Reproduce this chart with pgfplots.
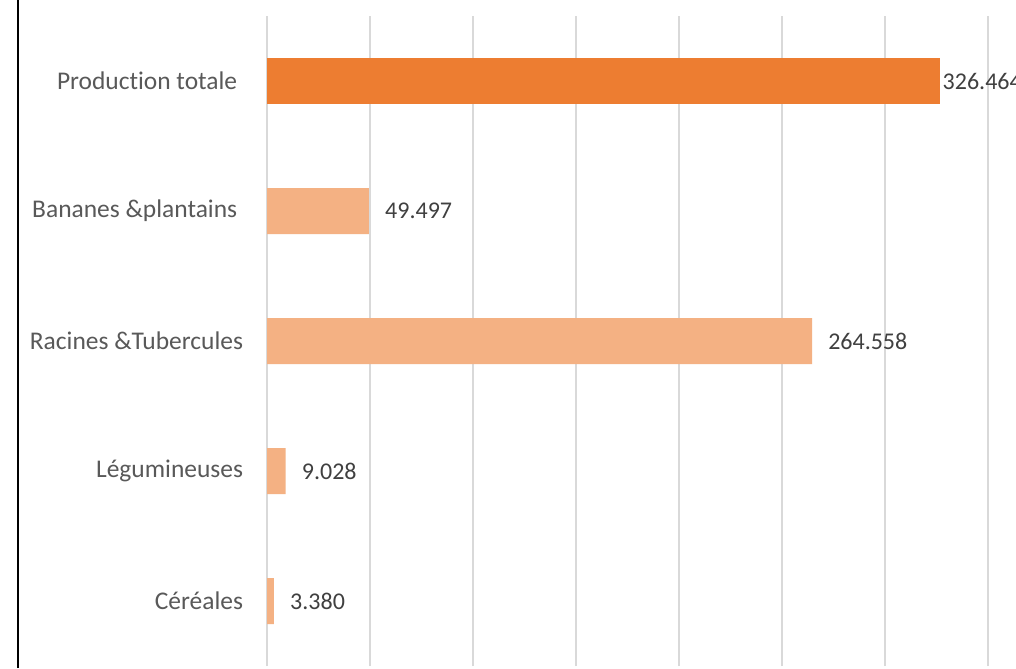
\documentclass[border=0pt]{standalone}
\usepackage{fontspec}
\setmainfont{Carlito}[Ligatures={NoCommon}]
\usepackage{pgfplots}
\pgfplotsset{compat=1.18}
\definecolor{barDark}{RGB}{237,125,49}
\definecolor{barLight}{RGB}{244,177,131}
\definecolor{gridc}{RGB}{217,217,217}
\definecolor{catc}{RGB}{89,89,89}
\definecolor{valc}{RGB}{64,64,64}
\begin{document}
\begin{tikzpicture}
\useasboundingbox (0,0) rectangle (762pt,501pt);
\clip (0,0) rectangle (762pt,501pt);
\fill[white] (0,0) rectangle (762pt,501pt);
\begin{axis}[
  at={(200.25pt,1.5pt)}, anchor=south west,
  scale only axis, width=540.75pt, height=487.5pt,
  xmin=0, xmax=350, ymin=-0.5, ymax=4.5,
  xtick={0,50,...,350}, xticklabels={},
  xmajorgrids, major grid style={gridc, line width=1.3pt},
  ytick={0,1,2,3,4},
  yticklabels={Céréales, Légumineuses, Racines \&Tubercules, Bananes \&plantains\kern0.23em, Production totale\kern0.23em},
  yticklabel style={font=\fontsize{19.1}{21}\selectfont, text=catc, inner sep=0pt, anchor=east, xshift=-13.5pt},
  axis line style={draw=none}, tick style={draw=none},
  xbar, bar width=34.5pt,
  point meta=explicit symbolic,
  nodes near coords,
  every node near coord/.append style={font=\fontsize{18}{20}\selectfont, text=valc, inner sep=0pt, anchor=west},
  clip=false,
]
\addplot[fill=barLight, draw=none, bar shift=0pt,
  every node near coord/.append style={xshift=12pt}]
  coordinates {(3.380,0) [3.380] (9.028,1) [9.028] (264.558,2) [264.558] (49.497,3) [49.497]};
\addplot[fill=barDark, draw=none, bar shift=0pt,
  every node near coord/.append style={xshift=2.2pt}]
  coordinates {(326.464,4) [326.464]};
\end{axis}
\draw[black, line width=1.5pt] (13.5pt,0) -- (13.5pt,501pt);
\end{tikzpicture}
\end{document}
